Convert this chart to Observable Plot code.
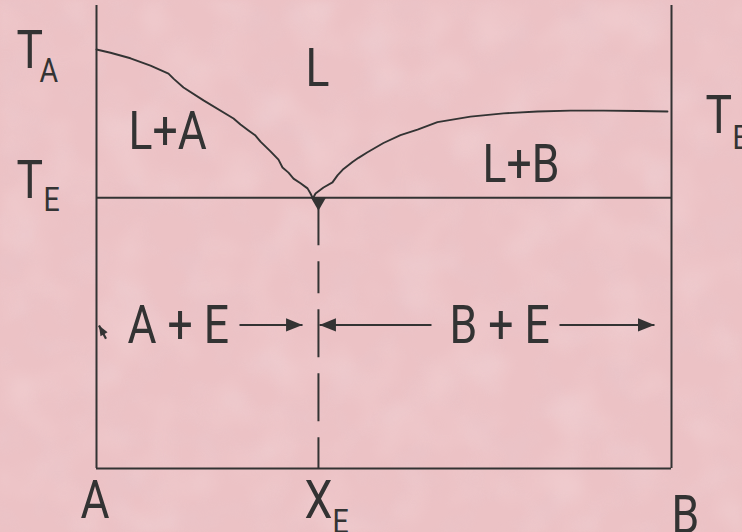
<!DOCTYPE html>
<html>
<head>
<meta charset="utf-8">
<script src="https://cdn.jsdelivr.net/npm/d3@7"></script>
<script src="https://cdn.jsdelivr.net/npm/@observablehq/plot@0.6"></script>
<style>
  html, body { margin: 0; padding: 0; background: #eabfc2; }
  #wrap { position: relative; width: 742px; height: 532px; overflow: hidden; }
  #paper, #chart { position: absolute; left: 0; top: 0; }
</style>
</head>
<body>
<div id="wrap">
  <!-- mottled paper background -->
  <svg id="paper" width="742" height="532" xmlns="http://www.w3.org/2000/svg">
    <filter id="mottle" x="0" y="0" width="100%" height="100%">
      <feTurbulence type="fractalNoise" baseFrequency="0.028" numOctaves="3" seed="7"/>
      <feColorMatrix type="matrix" values="0 0 0 0 0.80  0 0 0 0 0.57  0 0 0 0 0.61  1.9 0 0 0 -0.8"/>
      <feGaussianBlur stdDeviation="1.5"/>
    </filter>
    <filter id="glint" x="0" y="0" width="100%" height="100%">
      <feTurbulence type="fractalNoise" baseFrequency="0.02" numOctaves="2" seed="21"/>
      <feColorMatrix type="matrix" values="0 0 0 0 0.98  0 0 0 0 0.86  0 0 0 0 0.87  1.6 0 0 0 -0.7"/>
      <feGaussianBlur stdDeviation="3"/>
    </filter>
    <rect width="742" height="532" fill="#ecc2c5"/>
    <rect width="742" height="532" filter="url(#mottle)" opacity="0.4"/>
    <rect width="742" height="532" filter="url(#glint)" opacity="0.3"/>
  </svg>
  <div id="chart"></div>
</div>
<script>
// Binary eutectic phase diagram of components A and B.
// Composition runs 0 (pure A) to 100 (pure B); temperature is in relative units.

const T_A = 90.5;   // melting point of A
const T_B = 77.1;   // melting point of B
const T_E = 58.5;   // eutectic temperature
const X_E = 38.6;   // eutectic composition

// liquidus on the A-rich side
const leftLiquidusX = [0, 2.43, 5.91, 9.39, 12.52, 13.39, 15.13, 18.61, 23.83, 25.04, 26.43, 27.65, 28.52, 30.26, 31.65, 32.35, 33.39, 34.26, 35.48, 36.70, 37.22, 37.57];
const leftLiquidusT = [90.5, 89.8, 88.6, 87.0, 85.3, 84.2, 82.3, 79.5, 75.6, 74.3, 73.0, 71.9, 70.6, 68.5, 66.7, 65.0, 63.9, 62.6, 61.6, 60.5, 59.4, 58.5];

// liquidus on the B-rich side
const rightLiquidusX = [37.74, 38.09, 39.48, 41.04, 41.91, 42.96, 44.52, 45.57, 47.13, 49.91, 52.87, 55.83, 59.30, 65.04, 70.78, 76.70, 82.43, 88.17, 94.09, 99.3];
const rightLiquidusT = [58.6, 59.4, 60.7, 61.8, 63.3, 64.7, 66.2, 67.1, 68.3, 70.3, 72.0, 73.2, 74.8, 76.0, 76.7, 77.1, 77.3, 77.3, 77.2, 77.1];

// phase-field labels
const regionText = ["L", "L+A", "L+B", "A + E", "B + E"];
const regionX = [36.35, 5.57, 67.13, 5.39, 61.39];
const regionT = [82.7, 68.9, 61.8, 27.2, 27.2];

// edge labels (temperatures on the sides, compositions below)
const edgeText = ["T", "T", "T", "A", "X", "B"];
const edgeX = [-13.91, -13.91, 105.9, -2.78, 36.17, 100.0];
const edgeT = [86.6, T_E, 72.4, -10.6, -10.6, -14.0];

// subscripts belonging to the edge labels
const subText = ["A", "E", "B", "E"];
const subX = [-9.91, -9.22, 110.6, 41.04];
const subT = [83.4, 55.7, 69.1, -14.0];

// extent arrows of the A + E and B + E fields
const arrowFromX = [24.87, 58.26, 80.52];
const arrowToX = [35.83, 38.78, 97.04];
const arrowT = [31.0, 31.0, 31.0];
const arrowAngle = [0, 180, 0];

// small pointer beside the A axis
const pointerFrom = [1.65, 28.0];
const pointerTo = [0.43, 30.9];

const ink = "#333333";
const font = "Roboto, 'Noto Sans', sans-serif";
const squeeze = 0.84;   // horizontal squeeze giving the narrow lettering

// filled wedge whose tip sits on the anchor point and points along +x
const wedge = {
  draw(context, size) {
    const r = Math.sqrt(size / Math.PI);
    const len = r * 2.35, half = r * 0.95;
    context.moveTo(0, 0);
    context.lineTo(-len, -half);
    context.lineTo(-len, half);
    context.closePath();
  }
};
// eutectic marker: downward triangle hanging from the eutectic line
const eutecticMark = {
  draw(context) {
    context.moveTo(-7.5, 0);
    context.lineTo(7.5, 0);
    context.lineTo(0, 13);
    context.closePath();
  }
};

const leftLiquidus = leftLiquidusX.map((x, i) => ({x, t: leftLiquidusT[i]}));
const rightLiquidus = rightLiquidusX.map((x, i) => ({x, t: rightLiquidusT[i]}));
const regions = regionText.map((s, i) => ({s, x: regionX[i], t: regionT[i]}));
const edges = edgeText.map((s, i) => ({s, x: edgeX[i], t: edgeT[i]}));
const subs = subText.map((s, i) => ({s, x: subX[i], t: subT[i]}));
const arrows = arrowFromX.map((x1, i) => ({x1, x2: arrowToX[i], t: arrowT[i], a: arrowAngle[i]}));
const pointer = [{x1: pointerFrom[0], t1: pointerFrom[1], x2: pointerTo[0], t2: pointerTo[1]}];

const textStyle = {fill: ink, fontFamily: font, textAnchor: "start", lineAnchor: "bottom"};

const chart = Plot.plot({
  width: 742,
  height: 532,
  marginLeft: 96,
  marginRight: 71,
  marginTop: 5,
  marginBottom: 64,
  x: {domain: [0, 100], axis: null},
  y: {domain: [0, 100], axis: null},
  style: {background: "transparent", overflow: "visible"},
  marks: [
    // pure-component verticals
    Plot.ruleX([0, 100], {y1: 0, y2: 100, stroke: ink, strokeWidth: 2}),
    // base line and eutectic isotherm
    Plot.ruleY([0, T_E], {x1: 0, x2: 100, stroke: ink, strokeWidth: 2}),
    // liquidus curves
    Plot.line(leftLiquidus, {x: "x", y: "t", stroke: ink, strokeWidth: 1.9}),
    Plot.line(rightLiquidus, {x: "x", y: "t", stroke: ink, strokeWidth: 1.9}),
    // eutectic composition
    Plot.ruleX([X_E], {y1: T_E, y2: 0, stroke: ink, strokeWidth: 2, strokeDasharray: "48 16 32 16 48 16 48 16 48 16"}),
    Plot.dot([{x: X_E, t: T_E}], {x: "x", y: "t", r: 5, symbol: eutecticMark, fill: ink, stroke: "none"}),
    // field-extent arrows
    Plot.link(arrows, {x1: "x1", x2: "x2", y1: "t", y2: "t", stroke: ink, strokeWidth: 2}),
    Plot.dot(arrows, {x: "x2", y: "t", r: 7, rotate: "a", symbol: wedge, fill: ink, stroke: "none"}),
    // pointer
    Plot.link(pointer, {x1: "x1", x2: "x2", y1: "t1", y2: "t2", stroke: ink, strokeWidth: 2.2}),
    Plot.dot(pointer, {x: "x2", y: "t2", r: 4.3, rotate: 240, symbol: wedge, fill: ink, stroke: "none"}),
    // labels
    Plot.text(regions, {x: "x", y: "t", text: "s", fontSize: 53, ...textStyle}),
    Plot.text(edges, {x: "x", y: "t", text: "s", fontSize: 53, ...textStyle}),
    Plot.text(subs, {x: "x", y: "t", text: "s", fontSize: 34, ...textStyle})
  ]
});

// narrow the lettering about each label's anchor
chart.querySelectorAll("text").forEach(node => {
  const t = node.getAttribute("transform") || "";
  node.setAttribute("transform", `${t} scale(${squeeze},1)`);
});

document.getElementById("chart").append(chart);
</script>
</body>
</html>
